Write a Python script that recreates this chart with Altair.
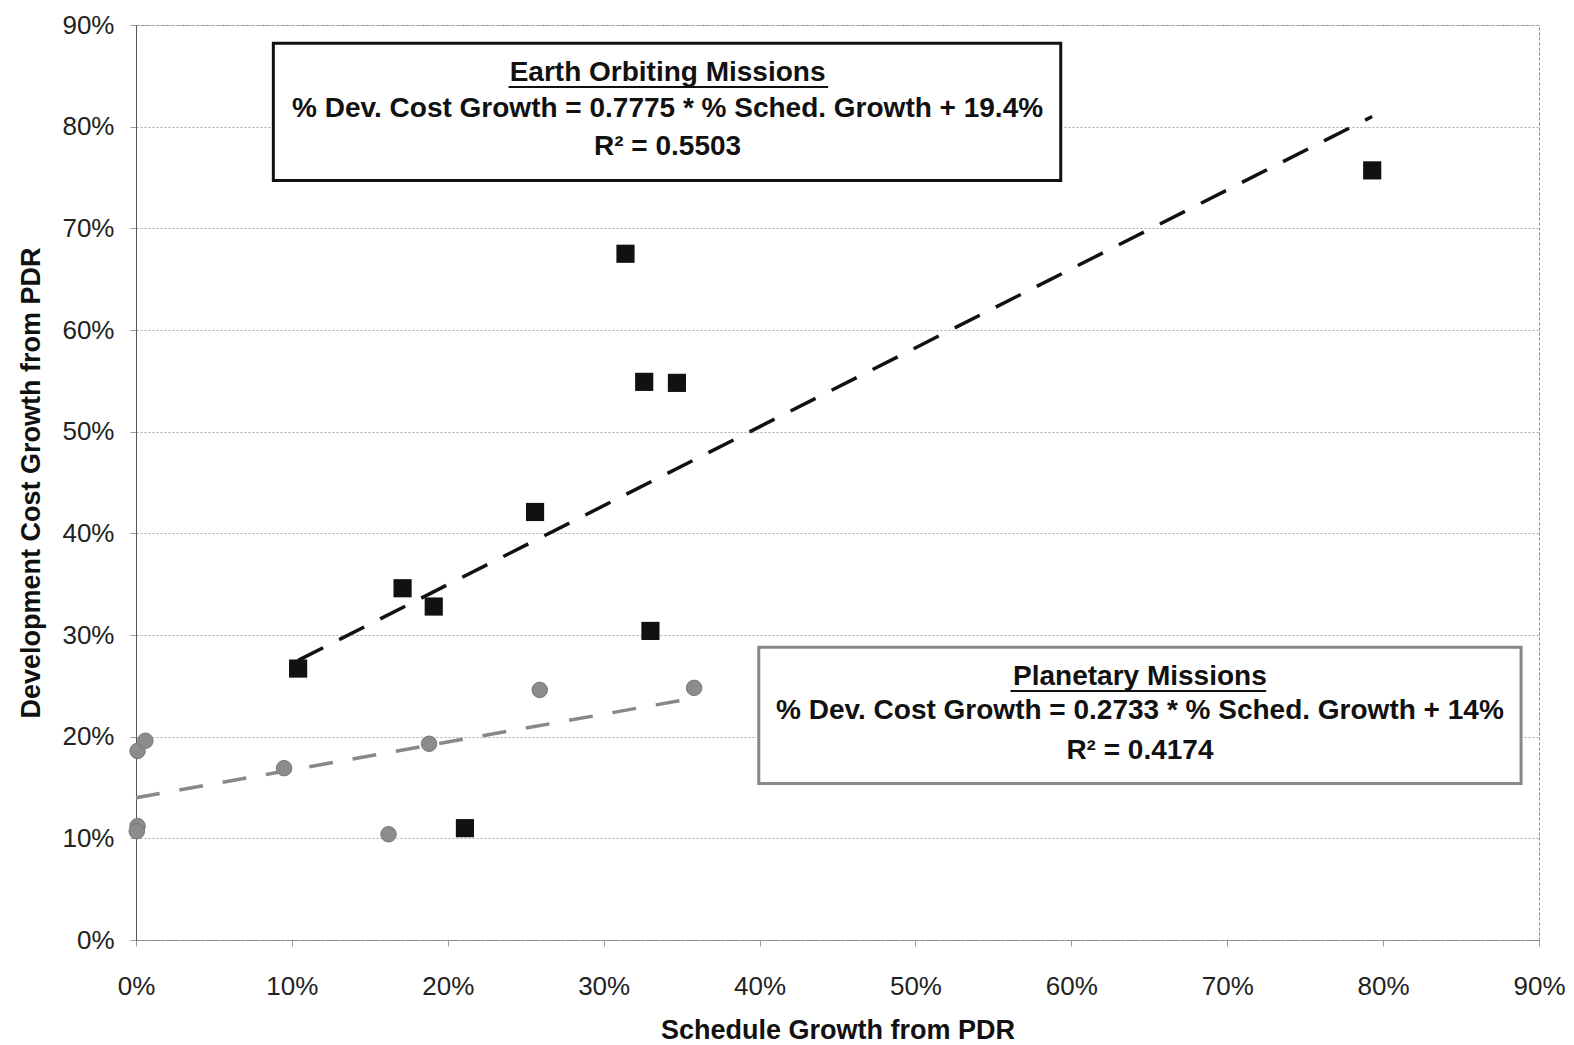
import altair as alt
import pandas as pd

# ---- data (percent units) ----
earth_x = [10.4, 17.1, 19.1, 25.6, 31.4, 32.6, 34.7, 33.0, 21.1, 79.3]
earth_y = [26.7, 34.6, 32.8, 42.1, 67.5, 54.9, 54.8, 30.4, 11.0, 75.7]
planet_x = [0.1, 0.6, 0.1, 0.05, 9.5, 16.2, 18.8, 25.9, 35.8]
planet_y = [18.6, 19.6, 11.2, 10.7, 16.9, 10.4, 19.3, 24.6, 24.8]

earth_trend_x = [10.4, 79.3]
earth_trend_y = [27.5, 81.0]
planet_trend_x = [0.0, 35.8]
planet_trend_y = [14.0, 23.8]

ticks = [0, 10, 20, 30, 40, 50, 60, 70, 80, 90]

earth_lines = ["Earth Orbiting Missions",
               "% Dev. Cost Growth = 0.7775 * % Sched. Growth + 19.4%",
               "R² = 0.5503"]
planet_lines = ["Planetary Missions",
                "% Dev. Cost Growth = 0.2733 * % Sched. Growth + 14%",
                "R² = 0.4174"]

# annotation placement (data units)
earth_box = dict(x=8.81, x2=59.32, y=88.2, y2=74.7)
planet_box = dict(x=39.95, x2=88.85, y=28.8, y2=15.4)
earth_text_x, earth_text_y = 34.1, [85.3, 81.7, 78.0]
planet_text_x, planet_text_y = 64.4, [25.9, 22.5, 18.6]
earth_ul = dict(x=23.9, x2=44.4, y=83.9)
planet_ul = dict(x=56.1, x2=72.5, y=24.5)

FONT = "Liberation Sans"

xs = alt.Scale(domain=[0, 90], nice=False)
ys = alt.Scale(domain=[0, 90], nice=False)

xaxis = alt.Axis(values=ticks, labelExpr="datum.value + '%'", grid=False, labelFlush=False,
                 title="Schedule Growth from PDR", titleFont=FONT, titleFontSize=27,
                 titleFontWeight="bold", titleColor="#111", titlePadding=18,
                 labelFont=FONT, labelFontSize=26, labelColor="#222", labelPadding=27,
                 tickSize=6, tickColor="#999", domainColor="#888", domainDash=[3, 2])
yaxis = alt.Axis(values=ticks, labelExpr="datum.value + '%'", grid=True, labelFlush=False,
                 gridColor="#aaa", gridDash=[2, 2], gridWidth=1,
                 title="Development Cost Growth from PDR", titleFont=FONT, titleFontSize=27,
                 titleFontWeight="bold", titleColor="#111", titlePadding=16,
                 labelFont=FONT, labelFontSize=26, labelColor="#222", labelPadding=16,
                 tickSize=6, tickColor="#999", domainColor="#555")

earth_df = pd.DataFrame({"x": earth_x, "y": earth_y})
planet_df = pd.DataFrame({"x": planet_x, "y": planet_y})
et_df = pd.DataFrame({"x": earth_trend_x, "y": earth_trend_y})
pt_df = pd.DataFrame({"x": planet_trend_x, "y": planet_trend_y})

base_axes = alt.Chart(pd.DataFrame({"x": [0, 90], "y": [0, 90]})).mark_point(opacity=0).encode(
    x=alt.X("x:Q", scale=xs, axis=xaxis),
    y=alt.Y("y:Q", scale=ys, axis=yaxis),
)

earth_trend = alt.Chart(et_df).mark_line(color="#111", strokeWidth=3.5, strokeDash=[28, 18]).encode(
    x=alt.X("x:Q", scale=xs), y=alt.Y("y:Q", scale=ys))
planet_trend = alt.Chart(pt_df).mark_line(color="#888", strokeWidth=3.5, strokeDash=[24, 20]).encode(
    x=alt.X("x:Q", scale=xs), y=alt.Y("y:Q", scale=ys))

earth_pts = alt.Chart(earth_df).mark_square(size=330, color="#111", opacity=1).encode(
    x=alt.X("x:Q", scale=xs), y=alt.Y("y:Q", scale=ys))
planet_pts = alt.Chart(planet_df).mark_circle(size=240, color="#8c8c8c", opacity=1,
                                             stroke="#777", strokeWidth=1).encode(
    x=alt.X("x:Q", scale=xs), y=alt.Y("y:Q", scale=ys))

boxes_df = pd.DataFrame([
    {**earth_box, "c": "#111"},
    {**planet_box, "c": "#888"},
])
boxes = alt.Chart(boxes_df).mark_rect(fill="white", strokeWidth=3).encode(
    x=alt.X("x:Q", scale=xs), x2="x2:Q",
    y=alt.Y("y:Q", scale=ys), y2="y2:Q",
    stroke=alt.Stroke("c:N", scale=None))

text_df = pd.DataFrame({
    "x": [earth_text_x] * 3 + [planet_text_x] * 3,
    "y": earth_text_y + planet_text_y,
    "t": earth_lines + planet_lines,
})
texts = alt.Chart(text_df).mark_text(font=FONT, fontSize=28, fontWeight="bold",
                                     color="#111", baseline="middle", align="center").encode(
    x=alt.X("x:Q", scale=xs), y=alt.Y("y:Q", scale=ys), text="t:N")

ul_df = pd.DataFrame([earth_ul, planet_ul])
underlines = alt.Chart(ul_df).mark_rule(color="#111", strokeWidth=2).encode(
    x=alt.X("x:Q", scale=xs), x2="x2:Q", y=alt.Y("y:Q", scale=ys))

chart = alt.layer(base_axes, planet_trend, earth_trend, earth_pts, planet_pts,
                  boxes, texts, underlines).properties(
    width=1403, height=915,
    autosize=alt.AutoSizeParams(type="none"),
    padding={"left": 128, "top": 17, "right": 27, "bottom": 104},
    background="white",
).configure_view(stroke="#888", strokeDash=[3, 2], strokeWidth=1)

chart.save("out.html", embed_options={"renderer": "svg", "actions": False})
